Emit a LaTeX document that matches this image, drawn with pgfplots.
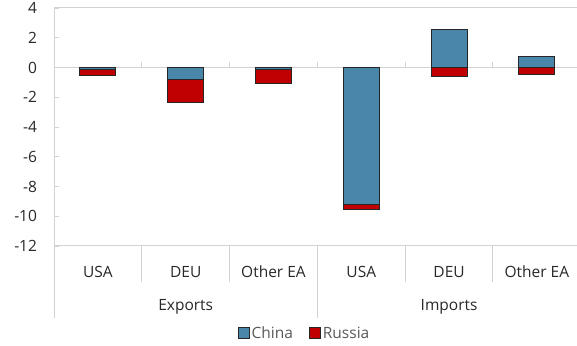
\documentclass[border=0pt]{standalone}
\usepackage{fontspec}
\setmainfont{Open Sans}
\usepackage{pgfplots}
\pgfplotsset{compat=1.18}
\definecolor{cnblue}{RGB}{74,134,170}
\definecolor{rured}{RGB}{192,0,0}
\definecolor{gridgray}{RGB}{210,210,210}
\definecolor{txt}{RGB}{40,40,40}
\begin{document}
\begin{tikzpicture}
\useasboundingbox (0pt,0pt) rectangle (577pt,345pt);
\begin{axis}[
  at={(54pt,99pt)}, anchor=south west,
  scale only axis, width=523pt, height=238pt,
  xmin=-0.5, xmax=5.457, ymin=-12, ymax=4,
  ytick={-12,-10,...,4},
  ytick pos=left, xtick=\empty,
  ytick style={draw=gridgray, line width=0.8pt},
  major tick length=5pt,
  tick align=inside,
  extra y ticks={-12,0,4},
  extra y tick labels={},
  extra y tick style={ymajorgrids=true, tick style={draw=none}},
  major grid style={draw=gridgray, line width=1pt},
  axis line style={draw=none},
  clip=false,
  font=\fontsize{15.5}{18}\selectfont,
  yticklabel style={xshift=-13.5pt, text=txt},
  /pgf/number format/assume math mode=true,
  ybar stacked, stack negative=separate,
  bar width=0.41,
  every axis plot post/.append style={legend image code/.code={\draw[##1] (0pt,-5.5pt) rectangle (11pt,5.5pt);}},
  legend style={at={(0.479,-0.366)}, anchor=center, draw=none, legend columns=2,
    /tikz/every even column/.append style={column sep=14pt},
    font=\fontsize{15.5}{18}\selectfont, text=black!65},
]
\draw[gridgray, line width=1pt] (axis cs:-0.5,4) -- ([yshift=-72pt]axis cs:-0.5,-12);
\draw[gridgray, line width=1pt] (axis cs:2.5,-12) -- ([yshift=-72pt]axis cs:2.5,-12);
\pgfplotsinvokeforeach{0.5,1.5,3.5,4.5}{
  \draw[gridgray, line width=1pt] (axis cs:#1,-12) -- ([yshift=-36pt]axis cs:#1,-12);
}
\pgfplotsinvokeforeach{0.5,1.5,2.5,3.5,4.5}{
  \draw[gridgray, line width=1pt] (axis cs:#1,0) -- ([yshift=5pt]axis cs:#1,0);
}
\addplot[fill=cnblue, draw=black!85, line width=0.9pt] coordinates
  {(0,-0.12) (1,-0.8) (2,-0.1) (3,-9.24) (4,2.57) (5,0.71)};
\addlegendentry{China}
\addplot[fill=rured, draw=black!85, line width=0.9pt] coordinates
  {(0,-0.4) (1,-1.57) (2,-0.96) (3,-0.29) (4,-0.57) (5,-0.48)};
\addlegendentry{Russia}
\node[anchor=base, text=txt] at ([yshift=-31pt]axis cs:0,-12) {USA};
\node[anchor=base, text=txt] at ([yshift=-31pt]axis cs:1,-12) {DEU};
\node[anchor=base, text=txt] at ([yshift=-31pt]axis cs:2,-12) {Other EA};
\node[anchor=base, text=txt] at ([yshift=-31pt]axis cs:3,-12) {USA};
\node[anchor=base, text=txt] at ([yshift=-31pt]axis cs:4,-12) {DEU};
\node[anchor=base, text=txt] at ([yshift=-31pt]axis cs:5,-12) {Other EA};
\node[anchor=base, text=txt] at ([yshift=-64.5pt]axis cs:1,-12) {Exports};
\node[anchor=base, text=txt] at ([yshift=-64.5pt]axis cs:4,-12) {Imports};
\end{axis}
\end{tikzpicture}
\end{document}
